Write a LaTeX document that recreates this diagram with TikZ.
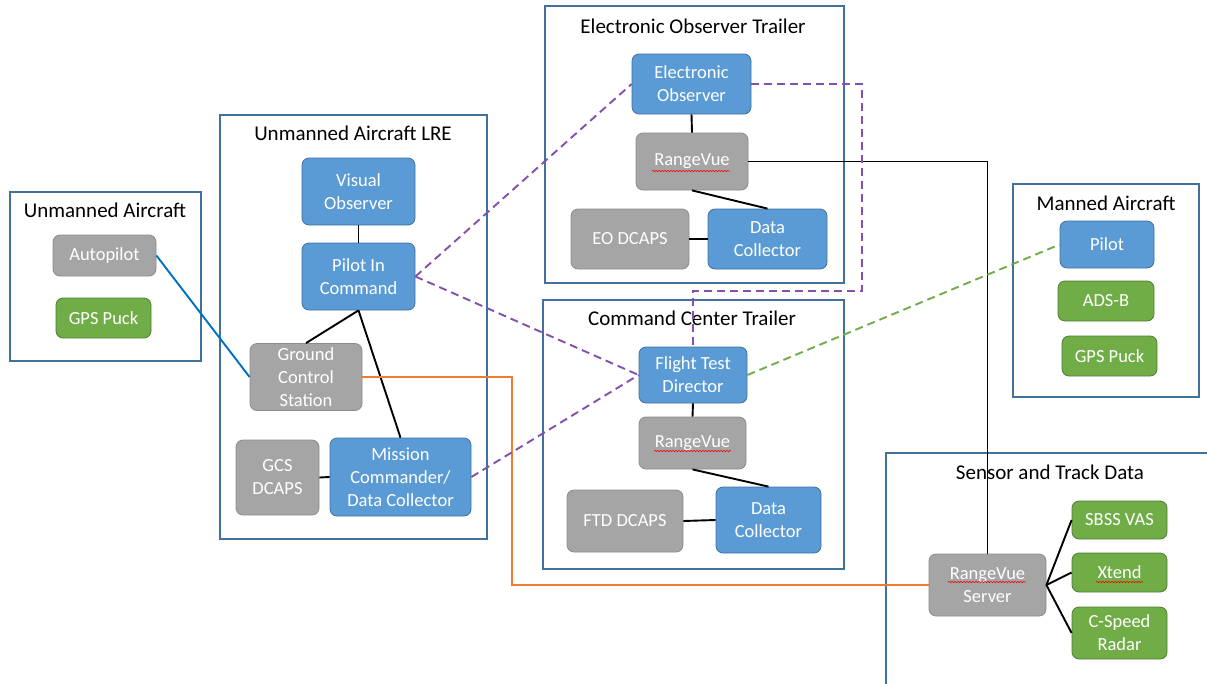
\documentclass[tikz,border=0pt]{standalone}
\usepackage{fontspec}
\setmainfont{Carlito}
\usetikzlibrary{decorations.pathmorphing}
\definecolor{cblue}{HTML}{5B9BD5}
\definecolor{cblueb}{HTML}{41719C}
\definecolor{cgray}{HTML}{A5A5A5}
\definecolor{cgrayb}{HTML}{8C8C8C}
\definecolor{cgreen}{HTML}{70AD47}
\definecolor{cgreenb}{HTML}{507E32}
\definecolor{cframe}{HTML}{41719C}
\definecolor{cpurple}{HTML}{7030A0}
\definecolor{corange}{HTML}{ED7D31}
\definecolor{cbline}{HTML}{0070C0}
\tikzset{
  box/.style={rounded corners=7pt, draw, line width=0.8pt, text=white, inner sep=0pt,
    align=center, font=\fontsize{18.5}{23}\selectfont},
  bbox/.style={box, fill=cblue, draw=cblueb},
  gbox/.style={box, fill=cgray, draw=cgrayb},
  grbox/.style={box, fill=cgreen, draw=cgreenb},
  frame/.style={draw=cframe, line width=2.4pt, inner sep=0pt},
  ttl/.style={font=\fontsize{21}{25}\selectfont, text=black, inner sep=0pt},
  conn/.style={line width=1.9pt, black},
  pdash/.style={line width=1.9pt, cpurple!85!white, dash pattern=on 8pt off 5pt},
  gdash/.style={line width=1.9pt, cgreen, dash pattern=on 8pt off 5pt},
  spell/.style={red, line width=0.5pt, decorate, decoration={snake, amplitude=0.7pt, segment length=3pt}}
}
\begin{document}
\begin{tikzpicture}[x=1pt, y=-1pt]
\useasboundingbox (0,0) rectangle (1207,683);
\fill[white] (0,0) rectangle (1207,683);
% containers
\node[frame, minimum width=191pt, minimum height=169pt] (fUA) at (105.5,276.5) {};
\node[ttl] (tUA) at (105,210) {Unmanned Aircraft};
\node[frame, minimum width=267pt, minimum height=424pt] (fLRE) at (353.5,327) {};
\node[ttl] (tLRE) at (353,133) {Unmanned Aircraft LRE};
\node[frame, minimum width=299pt, minimum height=277pt] (fEOT) at (694.5,144.5) {};
\node[ttl] (tEOT) at (693,26) {Electronic Observer Trailer};
\node[frame, minimum width=301pt, minimum height=269pt] (fCCT) at (693.5,434.5) {};
\node[ttl] (tCCT) at (692,318) {Command Center Trailer};
\node[frame, minimum width=186pt, minimum height=213pt] (fMA) at (1106,290.5) {};
\node[ttl] (tMA) at (1106,203) {Manned Aircraft};
\draw[cframe, line width=2.4pt] (886,690) -- (886,453) -- (1215,453);
\node[ttl] (tSTD) at (1050,472) {Sensor and Track Data};
% nodes
\node[gbox, minimum width=103pt, minimum height=41pt] (autopilot) at (104.5,255.5) {Autopilot};
\node[grbox, minimum width=95pt, minimum height=40pt] (gps1) at (103.5,318) {GPS Puck};
\node[bbox, minimum width=113pt, minimum height=67pt] (vo) at (358.5,191.5) {Visual\\Observer};
\node[bbox, minimum width=113pt, minimum height=67pt] (pic) at (358.5,276.5) {Pilot In\\Command};
\node[gbox, minimum width=112pt, minimum height=67pt] (gcs) at (306,377) {Ground\\Control\\Station};
\node[gbox, minimum width=83pt, minimum height=75pt] (gcsd) at (277.5,477.5) {GCS\\DCAPS};
\node[bbox, minimum width=141pt, minimum height=78pt] (mc) at (400.5,477) {Mission\\Commander/\\Data Collector};
\node[bbox, minimum width=119pt, minimum height=60pt] (eo) at (691.5,84) {Electronic\\Observer};
\node[gbox, minimum width=112pt, minimum height=57pt] (rv1) at (692,161.5) {RangeVue};
\node[gbox, minimum width=118pt, minimum height=60pt] (eod) at (630,239) {EO DCAPS};
\node[bbox, minimum width=119pt, minimum height=60pt] (dc1) at (767.5,239) {Data\\Collector};
\node[bbox, minimum width=108pt, minimum height=56pt] (ftd) at (693,375) {Flight Test\\Director};
\node[gbox, minimum width=107pt, minimum height=52pt] (rv2) at (692.5,443) {RangeVue};
\node[gbox, minimum width=116pt, minimum height=62pt] (ftdd) at (625,521) {FTD DCAPS};
\node[bbox, minimum width=105pt, minimum height=66pt] (dc2) at (768.5,520) {Data\\Collector};
\node[bbox, minimum width=94pt, minimum height=47pt] (pilot) at (1107,244.5) {Pilot};
\node[grbox, minimum width=96pt, minimum height=40pt] (adsb) at (1106,301) {ADS-B};
\node[grbox, minimum width=95pt, minimum height=40pt] (gps2) at (1109.5,356) {GPS Puck};
\node[gbox, minimum width=117pt, minimum height=62pt] (rvs) at (987.5,585) {RangeVue\\Server};
\node[grbox, minimum width=95pt, minimum height=38pt] (sbss) at (1119.5,520) {SBSS VAS};
\node[grbox, minimum width=95pt, minimum height=39pt] (xtend) at (1119.5,572.5) {Xtend};
\node[grbox, minimum width=95pt, minimum height=52pt] (csr) at (1119.5,633) {C-Speed\\Radar};
% spelling marks
\draw[spell] (652,171) -- (730,171);
\draw[spell] (654,451) -- (731,451);
\draw[spell] (948,582) -- (1026,582);
\draw[spell] (1096,582) -- (1143,582);
% connectors
\coordinate (o1) at (512,0);
\coordinate (p1) at (862,291);
\draw[conn] (vo.south) -- (pic.north);
\draw[conn] (pic.south) -- (gcs.north);
\draw[conn] (pic.south) -- (mc.north);
\draw[conn] (gcsd.east) -- (mc.west);
\draw[cbline, line width=1.9pt] (autopilot.east) -- (gcs.west);
\draw[corange, line width=2.1pt] (gcs.east) -- (gcs.east -| o1) -- (o1 |- rvs.west) -- (rvs.west);
\draw[conn] (eo.south) -- (rv1.north);
\draw[conn] (rv1.south) -- (dc1.north);
\draw[conn] (eod.east) -- (dc1.west);
\draw[conn] (rv1.east) -| (rvs.north);
\draw[conn] (ftd.south) -- (rv2.north);
\draw[conn] (rv2.south) -- (dc2.north);
\draw[conn] (ftdd.east) -- (dc2.west);
\draw[conn] (rvs.east) -- (sbss.west);
\draw[conn] (rvs.east) -- (xtend.west);
\draw[conn] (rvs.east) -- (csr.west);
\draw[pdash] (eo.east) -| (p1) -| (ftd.north);
\draw[pdash] (pic.east) -- (eo.west);
\draw[pdash] (pic.east) -- (ftd.west);
\draw[pdash] (mc.east) -- (ftd.west);
\draw[gdash] (ftd.east) -- (pilot.west);
\end{tikzpicture}
\end{document}
